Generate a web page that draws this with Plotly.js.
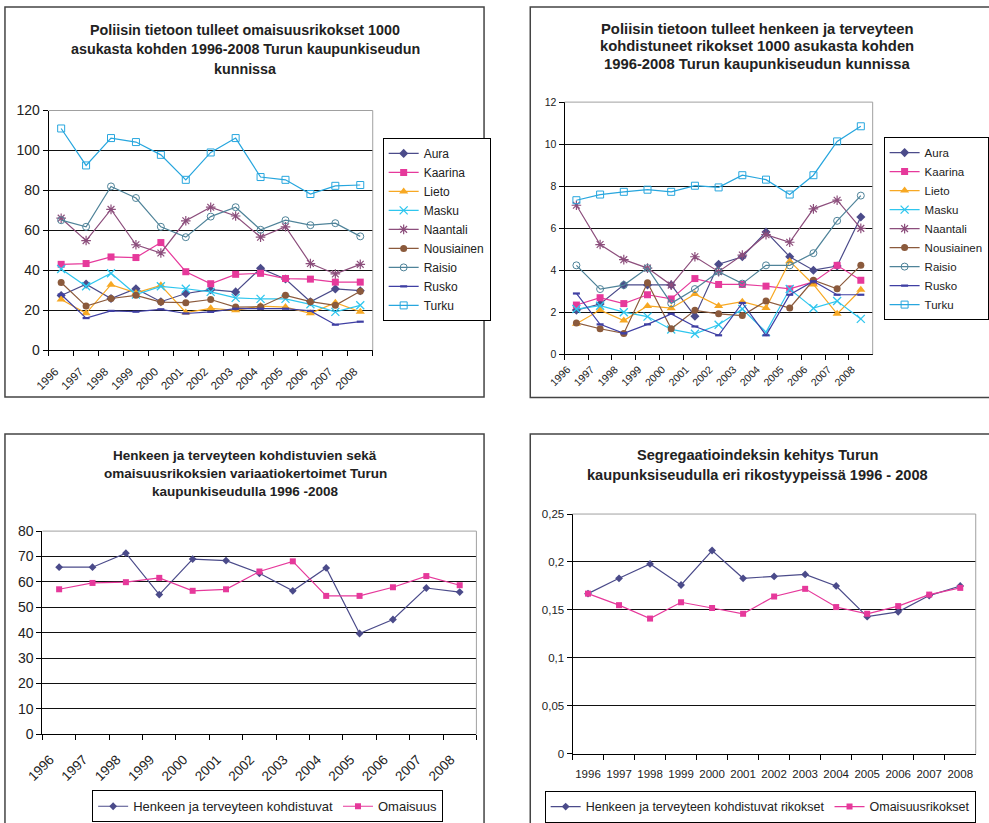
<!DOCTYPE html>
<html>
<head>
<meta charset="utf-8">
<script src="https://cdn.plot.ly/plotly-3.0.1.min.js"></script>
<style>html,body{margin:0;padding:0;background:#fff;}#chart{width:989px;height:823px;}</style>
</head>
<body>
<div id="chart"></div>
<script>
// ---------------- DATA ----------------
const years = ['1996','1997','1998','1999','2000','2001','2002','2003','2004','2005','2006','2007','2008'];
const municipalities = ['Aura','Kaarina','Lieto','Masku','Naantali','Nousiainen','Raisio','Rusko','Turku'];

// Property crimes per 1000 inhabitants
const propAura       = [27.4, 33.1, 25.9, 30.8, 24.3, 28.4, 30.3, 29.2, 41.0, 35.7, 24.3, 30.7, 29.8];
const propKaarina    = [43.0, 43.4, 46.7, 46.4, 53.9, 39.3, 33.3, 38.0, 38.5, 35.9, 35.6, 34.1, 34.1];
const propLieto      = [25.4, 18.5, 32.8, 28.7, 32.5, 18.9, 21.0, 20.0, 22.1, 21.6, 18.5, 23.8, 19.3];
const propMasku      = [40.7, 32.0, 38.5, 27.9, 32.0, 30.8, 29.2, 26.2, 25.7, 25.7, 23.0, 19.2, 22.5];
const propNaantali   = [66.1, 54.9, 70.5, 52.8, 48.7, 64.8, 71.6, 67.2, 56.6, 61.8, 43.4, 38.2, 43.0];
const propNousiainen = [33.9, 22.1, 25.9, 27.5, 24.1, 23.8, 25.4, 21.6, 21.8, 27.5, 24.3, 22.5, 29.5];
const propRaisio     = [65.1, 61.8, 82.0, 76.2, 61.8, 56.6, 66.9, 71.6, 60.3, 65.1, 62.6, 63.6, 57.0];
const propRusko      = [27.9, 16.1, 19.7, 19.3, 20.5, 18.4, 19.2, 20.8, 20.8, 20.8, 19.7, 12.8, 14.3];
const propTurku      = [111.0, 92.5, 106.2, 104.2, 97.8, 85.3, 99.0, 106.2, 86.7, 85.3, 78.2, 82.3, 82.7];

// Violent crimes (against life and health) per 1000 inhabitants
const violAura       = [2.10, 2.39, 3.30, 3.30, 3.30, 1.81, 4.28, 4.64, 5.82, 4.64, 4.00, 4.20, 6.53];
const violKaarina    = [2.34, 2.69, 2.41, 2.83, 2.63, 3.60, 3.32, 3.32, 3.24, 3.11, 3.44, 4.23, 3.52];
const violLieto      = [1.45, 2.10, 1.60, 2.30, 2.19, 2.86, 2.30, 2.50, 2.20, 4.43, 3.32, 1.92, 3.07];
const violMasku      = [2.15, 2.31, 2.00, 1.79, 1.18, 0.97, 1.40, 2.15, 1.05, 3.10, 2.19, 2.53, 1.68];
const violNaantali   = [7.09, 5.22, 4.50, 4.10, 3.29, 4.64, 3.93, 4.72, 5.69, 5.33, 6.92, 7.33, 5.99];
const violNousiainen = [1.49, 1.21, 0.99, 3.40, 1.21, 2.09, 1.92, 1.84, 2.53, 2.20, 3.52, 3.11, 4.23];
const violRaisio     = [4.23, 3.10, 3.29, 4.10, 2.42, 3.10, 3.93, 3.36, 4.23, 4.23, 4.81, 6.35, 7.55];
const violRusko      = [2.89, 1.42, 0.99, 1.42, 1.92, 1.32, 0.90, 2.44, 0.90, 2.83, 3.47, 2.83, 2.83];
const violTurku      = [7.33, 7.60, 7.73, 7.83, 7.73, 8.02, 7.94, 8.52, 8.31, 7.60, 8.52, 10.13, 10.85];

// Coefficients of variation
const cvHenkeen  = [65.8, 65.8, 71.3, 55.0, 69.0, 68.4, 63.4, 56.5, 65.5, 39.7, 45.2, 57.6, 56.0];
const cvOmaisuus = [57.1, 59.6, 59.9, 61.6, 56.5, 57.1, 64.1, 68.1, 54.5, 54.5, 57.9, 62.3, 58.7];

// Segregation index
const segHenkeen  = [0.167, 0.183, 0.198, 0.176, 0.212, 0.183, 0.185, 0.187, 0.175, 0.143, 0.148, 0.165, 0.175];
const segOmaisuus = [0.167, 0.155, 0.141, 0.158, 0.152, 0.146, 0.164, 0.172, 0.153, 0.146, 0.154, 0.166, 0.173];

const titleTL = ['Poliisin tietoon tulleet omaisuusrikokset 1000','asukasta kohden 1996-2008 Turun kaupunkiseudun','kunnissa'];
const titleTR = ['Poliisin tietoon tulleet henkeen ja terveyteen','kohdistuneet rikokset 1000 asukasta kohden','1996-2008 Turun kaupunkiseudun kunnissa'];
const titleBL = ['Henkeen ja terveyteen kohdistuvien sekä','omaisuusrikoksien variaatiokertoimet Turun','kaupunkiseudulla 1996 -2008'];
const titleBR = ['Segregaatioindeksin kehitys Turun','kaupunksiseudulla eri rikostyypeissä 1996 - 2008'];
const legendBL = ['Henkeen ja terveyteen kohdistuvat','Omaisuus'];
const legendBR = ['Henkeen ja terveyteen kohdistuvat rikokset','Omaisuusrikokset'];

// ---------------- STYLES ----------------
const W = 989, H = 823;
const FONT = 'Liberation Sans, Arial, Helvetica, sans-serif';
const px = x => x / W;
const py = y => 1 - y / H;

const styles = {
  Aura:       {color:'#4B4B8A', symbol:'diamond', size:7, lw:0},
  Kaarina:    {color:'#E6399B', symbol:'square', size:7, lw:0},
  Lieto:      {color:'#F7A823', symbol:'triangle-up', size:8, lw:0},
  Masku:      {color:'#2FC6EE', symbol:'x-thin-open', size:8, lw:1.3},
  Naantali:   {color:'#8C4E7C', symbol:'asterisk-open', size:8, lw:1.2},
  Nousiainen: {color:'#8B5A3C', symbol:'circle', size:7, lw:0},
  Raisio:     {color:'#4F8399', symbol:'circle-open', size:7, lw:1},
  Rusko:      {color:'#3F3FA3', symbol:'line-ew-open', size:5, lw:2.2},
  Turku:      {color:'#27A6DE', symbol:'square-open', size:7, lw:1}
};

const propData = [propAura, propKaarina, propLieto, propMasku, propNaantali, propNousiainen, propRaisio, propRusko, propTurku];
const violData = [violAura, violKaarina, violLieto, violMasku, violNaantali, violNousiainen, violRaisio, violRusko, violTurku];

function muniTrace(name, ys, xa, ya, leg) {
  const s = styles[name];
  const mk = {color:s.color, symbol:s.symbol, size:s.size};
  if (s.lw) mk.line = {color:s.color, width:s.lw};
  return {
    type:'scatter', mode:'lines+markers', name:name, x:years, y:ys,
    xaxis:xa, yaxis:ya, legend:leg,
    line:{color:s.color, width:1.2}, marker:mk, cliponaxis:false
  };
}

const traces = [];
municipalities.forEach((m,i) => traces.push(muniTrace(m, propData[i], 'x', 'y', 'legend')));
municipalities.forEach((m,i) => traces.push(muniTrace(m, violData[i], 'x2', 'y2', 'legend2')));

const navy = '#4B4B8A', pink = '#E6399B';
traces.push({type:'scatter', mode:'lines+markers', name:legendBL[0], x:years, y:cvHenkeen, xaxis:'x3', yaxis:'y3', legend:'legend3',
  line:{color:navy, width:1.2}, marker:{color:navy, symbol:'diamond', size:6}, cliponaxis:false});
traces.push({type:'scatter', mode:'lines+markers', name:legendBL[1], x:years, y:cvOmaisuus, xaxis:'x3', yaxis:'y3', legend:'legend3',
  line:{color:pink, width:1.2}, marker:{color:pink, symbol:'square', size:6}, cliponaxis:false});
traces.push({type:'scatter', mode:'lines+markers', name:legendBR[0], x:years, y:segHenkeen, xaxis:'x4', yaxis:'y4', legend:'legend4',
  line:{color:navy, width:1.2}, marker:{color:navy, symbol:'diamond', size:6}, cliponaxis:false});
traces.push({type:'scatter', mode:'lines+markers', name:legendBR[1], x:years, y:segOmaisuus, xaxis:'x4', yaxis:'y4', legend:'legend4',
  line:{color:pink, width:1.2}, marker:{color:pink, symbol:'square', size:6}, cliponaxis:false});

function xax(x0, x1, anchor, size, angle, standoff, shift) {
  return {type:'category', domain:[px(x0), px(x1)], anchor:anchor, range:[-0.5, 12.5],
    tickson:'boundaries', ticks:'outside', ticklen:5, tickcolor:'#000', tickwidth:1,
    showline:true, linecolor:'#000', linewidth:1, showgrid:false, zeroline:false,
    tickangle:angle, ticklabelstandoff:standoff, ticklabelshift:shift,
    tickfont:{family:FONT, size:size, color:'#222'}, fixedrange:true};
}
function yax(y0, y1, anchor, range, dtick, size) {
  return {domain:[py(y1), py(y0)], anchor:anchor, range:range, dtick:dtick, tick0:0,
    ticks:'outside', ticklen:5, tickcolor:'#000', tickwidth:1,
    showline:true, linecolor:'#000', linewidth:1, showgrid:true, gridcolor:'#111', gridwidth:1,
    zeroline:false, tickfont:{family:FONT, size:size, color:'#222'}, fixedrange:true};
}

const annotations = [];
function addTitle(lines, cx, ys, size) {
  lines.forEach((t,i) => annotations.push({text:'<b>'+t+'</b>', xref:'paper', yref:'paper', x:px(cx), y:py(ys[i]),
    xanchor:'center', yanchor:'middle', showarrow:false, font:{family:FONT, size:size, color:'#222'}}));
}
addTitle(titleTL, 246.5, [30, 49.5, 69.5], 14.3);
addTitle(titleTR, 762, [29, 46.8, 64.8], 14.8);
addTitle(titleBL, 246.5, [462, 480, 498.5], 13.5);
addTitle(titleBR, 762.5, [461.5, 481], 14.6);

const shapes = [];
function box(x0, y0, x1, y1) {
  shapes.push({type:'rect', xref:'paper', yref:'paper', x0:px(x0), x1:px(x1), y0:py(y1), y1:py(y0),
    line:{color:'#444', width:1.5}, fillcolor:'rgba(0,0,0,0)', layer:'below'});
}
box(5, 7, 487, 402.5);
box(533.5, 7, 1010, 403);
box(5, 440, 487, 840);
box(533.5, 440, 1010, 840);
function plotBorder(xa, ya) {
  shapes.push({type:'line', xref:xa+' domain', yref:ya+' domain', x0:0, x1:1, y0:1, y1:1, line:{color:'#a0a0a0', width:1}, layer:'above'});
  shapes.push({type:'line', xref:xa+' domain', yref:ya+' domain', x0:1, x1:1, y0:0, y1:1, line:{color:'#a0a0a0', width:1}, layer:'above'});
}
plotBorder('x','y'); plotBorder('x2','y2'); plotBorder('x3','y3'); plotBorder('x4','y4');

function legendV(x, yc, size) {
  return {x:px(x), y:py(yc), xanchor:'left', yanchor:'middle', bgcolor:'#fff', bordercolor:'#000', borderwidth:1,
    font:{family:FONT, size:size, color:'#222'}, itemwidth:30, tracegroupgap:0};
}
function legendH(x, y, size) {
  return {x:px(x), y:py(y), xanchor:'left', yanchor:'top', orientation:'h', bgcolor:'#fff', bordercolor:'#000', borderwidth:1,
    font:{family:FONT, size:size, color:'#222'}, itemwidth:30};
}

const layout = {
  width:W, height:H, autosize:false, margin:{l:0, r:0, t:0, b:0},
  paper_bgcolor:'#fff', plot_bgcolor:'#fff', separators:', ',
  font:{family:FONT, color:'#222'},
  xaxis:  xax(49, 375, 'y', 11.5, -45, 9, -6),
  yaxis:  yax(112, 355, 'x', [0,120], 20, 14),
  xaxis2: xax(568, 878, 'y2', 10.5, -45, 4, -9),
  yaxis2: yax(103.5, 359, 'x2', [0,12], 2, 10.5),
  xaxis3: xax(42.7, 479.3, 'y3', 13.5, -45, 11, -9),
  yaxis3: yax(538.3, 744.3, 'x3', [0,80], 10, 14),
  xaxis4: xax(576, 981.7, 'y4', 11.5, 0, 9, 0),
  yaxis4: yax(521, 764, 'x4', [0,0.25], 0.05, 11.5),
  legend:  legendV(385, 232.5, 12),
  legend2: legendV(889, 231.7, 11.5),
  legend3: legendH(92.7, 801, 13),
  legend4: legendH(548, 801.7, 12.5),
  annotations:annotations, shapes:shapes, showlegend:true
};

Plotly.newPlot('chart', traces, layout, {displayModeBar:false, staticPlot:true});
</script>
</body>
</html>
